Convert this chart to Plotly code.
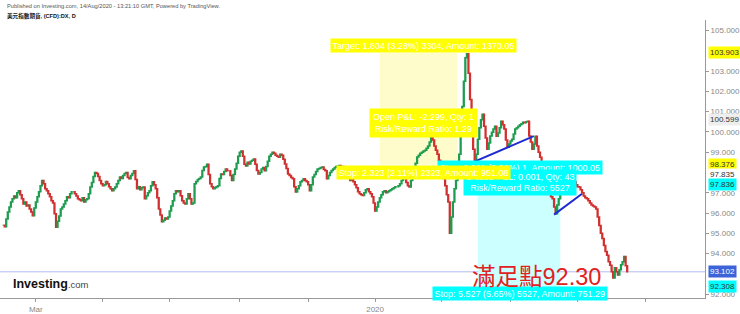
import plotly.graph_objects as go
import pandas as pd

# ---------------- data (daily closes) ----------------
closes = [
    95.40, 95.32, 95.70, 96.05, 96.30, 96.55, 96.70, 96.84, 96.75, 97.00,
    97.10, 96.90, 96.70, 96.45, 96.55, 96.35, 96.40, 96.20, 96.05, 95.87,
    96.25, 96.55, 96.80, 97.05, 97.35, 97.60, 97.45, 97.20, 97.10, 96.95,
    96.80, 96.60, 96.50, 95.97, 95.30, 95.60, 95.85, 96.20, 96.30, 96.45,
    96.60, 96.80, 96.75, 96.95, 97.05, 97.05, 96.95, 96.84, 96.70, 96.65,
    96.60, 96.75, 96.55, 96.65, 96.70, 96.95, 97.28, 97.50, 97.80, 98.00,
    97.95, 97.80, 97.60, 97.45, 97.35, 97.40, 97.55, 97.45, 97.30, 97.20,
    97.10, 97.20, 97.28, 97.45, 97.60, 97.78, 97.70, 97.85, 97.95, 98.00,
    97.75, 97.69, 97.85, 97.95, 98.08, 97.65, 97.20, 97.30, 97.15, 97.25,
    97.28, 96.70, 96.85, 97.00, 97.10, 97.35, 97.54, 97.40, 97.20, 96.75,
    96.20, 95.90, 95.57, 95.65, 95.75, 95.70, 95.80, 96.10, 96.35, 96.60,
    96.95, 97.10, 97.05, 97.10, 96.85, 96.60, 96.50, 96.45, 96.70, 96.95,
    96.70, 96.45, 96.50, 97.44, 97.55, 97.65, 97.70, 97.78, 98.10, 98.27,
    98.30, 98.40, 97.90, 97.44, 97.30, 97.20, 97.25, 97.30, 97.35, 97.70,
    97.93, 97.90, 98.05, 98.17, 98.08, 98.08, 97.85, 97.60, 97.90, 98.17,
    98.45, 98.80, 99.00, 99.06, 98.80, 98.40, 98.32, 98.50, 98.42, 98.55,
    98.60, 98.66, 98.40, 98.10, 97.93, 98.00, 98.17, 98.25, 98.08, 98.30,
    98.55, 98.80, 98.90, 99.00, 98.95, 98.85, 98.80, 98.75, 98.90, 98.85,
    98.65, 98.42, 98.20, 97.93, 97.85, 97.75, 97.69, 97.30, 97.04, 97.20,
    97.35, 97.54, 97.60, 97.69, 97.60, 97.54, 97.40, 97.10, 97.40, 97.78,
    97.90, 98.05, 98.17, 98.20, 98.25, 98.27, 98.15, 98.08, 97.69, 97.85,
    98.00, 98.10, 98.17, 98.25, 98.30, 98.32, 98.35, 98.27, 98.30, 98.05,
    97.95, 97.83, 97.75, 97.60, 97.65, 97.54, 97.40, 97.25, 97.05, 96.95,
    96.90, 96.86, 97.00, 97.15, 97.20, 97.05, 96.95, 96.80, 96.50, 96.10,
    96.30, 96.55, 96.75, 96.90, 97.05, 97.10, 97.00, 97.05, 97.10, 97.15,
    97.20, 97.25, 97.30, 97.30, 97.35, 97.45, 97.60, 97.83, 97.70, 97.50,
    97.35, 97.28, 97.60, 97.93, 98.20, 98.45, 98.76, 98.85, 98.95, 99.00,
    99.06, 99.10, 99.20, 99.30, 99.50, 99.79, 99.60, 99.30, 99.10, 98.90,
    98.60, 98.30, 98.02, 97.70, 97.35, 96.90, 96.55, 95.00, 95.80, 96.55,
    97.20, 97.60, 98.00, 98.90, 99.79, 101.26, 102.50, 103.66, 103.85, 102.90,
    101.60, 100.60, 99.15, 98.57, 98.90, 99.64, 100.20, 100.60, 100.87, 100.28,
    99.70, 99.15, 99.45, 99.80, 99.98, 100.15, 100.28, 99.79, 99.95, 100.20,
    100.53, 100.35, 100.14, 99.60, 99.25, 99.40, 99.55, 99.64, 99.90, 100.14,
    100.20, 100.28, 100.35, 100.40, 100.48, 100.45, 100.50, 100.53, 99.80, 99.50,
    99.15, 99.40, 99.79, 99.30, 99.00, 98.75, 98.52, 98.15, 97.83, 97.50,
    97.20, 96.95, 96.80, 96.70, 96.30, 95.97, 96.40, 96.70, 96.95, 97.20,
    97.40, 97.54, 97.60, 97.69, 97.50, 97.35, 97.45, 97.54, 97.40, 97.30,
    97.28, 97.15, 97.00, 96.84, 96.75, 96.70, 96.60, 96.50, 96.40, 96.35,
    96.30, 96.20, 95.80, 95.38, 95.00, 94.75, 94.40, 94.10, 93.92, 93.60,
    93.43, 93.10, 92.80, 93.30, 93.10, 92.95, 93.20, 93.45, 93.60, 93.86,
    93.40, 93.10,
]
last_date = "2020-08-14"

# axis ticks
month_ticks = ["2019-03-01", "2019-05-01", "2019-07-01", "2019-09-02", "2019-11-01",
               "2020-01-01", "2020-03-02", "2020-05-01", "2020-07-01", "2020-09-01"]
month_labels = ["Mar", "", "", "", "", "2020", "", "", "", ""]
price_ticks = [92, 94, 95, 96, 97, 99, 100, 101, 102, 103, 105]

# drawings (position tools, trend lines, price marks)
long_box = {"x0": "2020-01-06", "x1": "2020-03-16", "entry": 98.376, "target": 103.903}
short_box = {"x0": "2020-04-02", "x1": "2020-06-16", "entry": 97.836, "target": 92.308}
trend1 = {"x": ["2020-03-27", "2020-05-22"], "y": [98.47, 99.79]}
trend2 = {"x": ["2020-06-10", "2020-07-06"], "y": [95.92, 96.95]}
last_price = 93.102
price_marks = [  # value, bg, text colour, pixel shift
    (103.903, "#ffff00", "#333333", 0),
    (100.599, "#eeeeee", "#333333", 0),
    (98.376, "#ffff00", "#333333", 0),
    (97.835, "#ffffff", "#333333", 1),
    (97.836, "#00ffff", "#333333", -9),
    (93.102, "#3c63d8", "#ffffff", 0),
    (92.308, "#00ffff", "#333333", 1),
]

# ---------------- figure ----------------
dates = pd.bdate_range(end=last_date, periods=len(closes))
opens = [closes[0]] + closes[:-1]
highs = [max(o, c) for o, c in zip(opens, closes)]
lows = [min(o, c) for o, c in zip(opens, closes)]

FONT = "Liberation Sans, Arial, Noto Sans CJK TC"
UP, DOWN = "#1e9c4f", "#d0302f"

fig = go.Figure()
fig.add_trace(go.Candlestick(
    x=dates, open=opens, high=highs, low=lows, close=closes,
    increasing=dict(line=dict(color=UP, width=1.5), fillcolor=UP),
    decreasing=dict(line=dict(color=DOWN, width=1.5), fillcolor=DOWN),
    whiskerwidth=0, showlegend=False, hoverinfo="skip",
))

# position tools
fig.add_shape(type="rect", xref="x", yref="y", x0=long_box["x0"], x1=long_box["x1"],
              y0=long_box["entry"], y1=long_box["target"],
              fillcolor="#fffccc", line=dict(width=0), layer="below")
fig.add_shape(type="rect", xref="x", yref="y", x0=short_box["x0"], x1=short_box["x1"],
              y0=short_box["target"], y1=short_box["entry"],
              fillcolor="#ccffff", line=dict(width=0), layer="below")
# last price line
fig.add_shape(type="line", xref="paper", yref="y", x0=0, x1=1, y0=last_price, y1=last_price,
              line=dict(color="#b4bcf2", width=1), layer="below")
# trend lines
for t in (trend1, trend2):
    fig.add_trace(go.Scatter(x=t["x"], y=t["y"], mode="lines",
                             line=dict(color="#1f2bd0", width=2),
                             showlegend=False, hoverinfo="skip"))

ann = []
def label(text, x, y, bg, size=9, color="#ffffff", pad=1.5):
    ann.append(dict(text=text, x=x, y=y, xref="x", yref="y", showarrow=False,
                    bgcolor=bg, font=dict(family=FONT, size=size, color=color),
                    borderpad=pad))

mid_long = "2020-02-13"
mid_short = "2020-05-11"
label("Target: 1.804 (3.28%) 3304, Amount: 1370.05", mid_long, 104.25, "#ffff00")
label("Open P&L: -2.299, Qty: 1<br>Risk/Reward Ratio: 1.29", mid_long, 100.43, "#ffff00", pad=3)
label("Stop: 0.001 (0.00%) 1, Amount: 1000.05", mid_short, 98.24, "#00ffff")
label("Closed P&L: 0.001, Qty: 43<br>Risk/Reward Ratio: 5527", mid_short, 97.52, "#00ffff")
label("Stop: 2.323 (2.11%) 2323, Amount: 951.08", mid_long, 97.98, "#ffff00")
label("Stop: 5.527 (5.65%) 5527, Amount: 751.29", mid_short, 92.03, "#00ffff")

# price marks on the right scale
for v, bg, fc, sh in price_marks:
    ann.append(dict(text=f"{v:.3f}", x=1, y=v, xref="paper", yref="y", xanchor="left",
                    xshift=3, yshift=sh, showarrow=False, bgcolor=bg, borderpad=1,
                    font=dict(family=FONT, size=8, color=fc)))

# big red text
ann.append(dict(text="滿足點92.30", x="2020-05-26", y=92.86, xref="x", yref="y",
                showarrow=False, font=dict(family=FONT, size=23.5, color="#e02222")))

# header and logo
ann.append(dict(text="Published on Investing.com, 14/Aug/2020 - 13:21:10 GMT, Powered by TradingView.",
                x=0.007, y=1.05, xref="paper", yref="paper", xanchor="left", yanchor="middle",
                showarrow=False, font=dict(family=FONT, size=5.7, color="#555555")))
ann.append(dict(text="<b>美元指數期貨, (CFD):DX, D</b>",
                x=0.007, y=1.014, xref="paper", yref="paper", xanchor="left", yanchor="middle",
                showarrow=False, font=dict(family=FONT, size=5.6, color="#111111")))
ann.append(dict(text="<b>Investing</b><span style='font-size:9.5px;color:#444'>.com</span>",
                x=0.0156, y=0.05, xref="paper", yref="paper", xanchor="left", yanchor="middle",
                showarrow=False, font=dict(family=FONT, size=12.5, color="#111111")))

fig.update_layout(
    width=740, height=314, margin=dict(l=0, r=34, t=20, b=14),
    paper_bgcolor="white", plot_bgcolor="white",
    annotations=ann, showlegend=False,
    xaxis=dict(type="date", range=["2019-01-29", "2020-10-23"],
               rangebreaks=[dict(bounds=["sat", "mon"])],
               rangeslider=dict(visible=False),
               tickvals=month_ticks, ticktext=month_labels,
               ticks="outside", ticklen=3, tickcolor="#999999",
               showline=True, linecolor="#999999", linewidth=1,
               showgrid=False, zeroline=False,
               tickfont=dict(family=FONT, size=8, color="#888888")),
    yaxis=dict(side="right", range=[91.81, 105.52],
               tickvals=price_ticks, tickformat=".3f",
               ticks="outside", ticklen=3, tickcolor="#999999",
               showline=True, linecolor="#999999", linewidth=1,
               showgrid=False, zeroline=False,
               tickfont=dict(family=FONT, size=8, color="#888888")),
)

fig.write_html("out.html")
